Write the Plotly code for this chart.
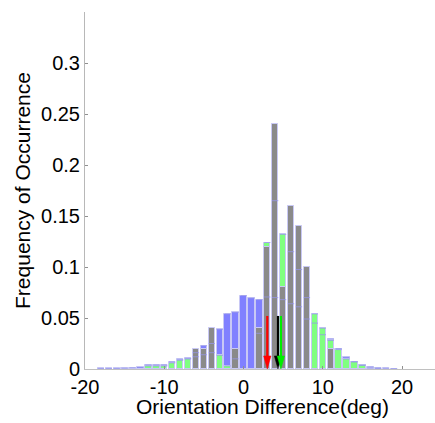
import plotly.graph_objects as go

# ---------------- data ----------------
bins = list(range(-18, 20))  # bin centres (deg)

blue_vals = [0.0005, 0.0005, 0.0005, 0.0008, 0.0012, 0.0015, 0.004, 0.004, 0.004, 0.007,
             0.0095, 0.0105, 0.016, 0.0228, 0.025, 0.0388, 0.054, 0.0555, 0.072, 0.0695,
             0.068, 0.0706, 0.070, 0.068, 0.064, 0.061, 0.049, 0.045, 0.0336, 0.0294,
             0.020, 0.0114, 0.0072, 0.0038, 0.002, 0.001, 0.0007, 0.0003]

green_vals = [0, 0, 0, 0, 0, 0, 0.003, 0.003, 0.003, 0.006,
              0.0085, 0.0098, 0.012, 0.014, 0.016, 0.0134, 0.003, 0.010, 0, 0,
              0.035, 0.124, 0.165, 0.132, 0.115, 0.0975, 0.070, 0.054, 0.040, 0.028,
              0.019, 0.0098, 0.0069, 0.0035, 0.001, 0.0005, 0, 0]

gray_vals = [0, 0, 0, 0, 0, 0, 0, 0, 0, 0,
             0, 0, 0.02, 0.02, 0.04, 0, 0, 0.02, 0, 0,
             0.04, 0.12, 0.24, 0.08, 0.16, 0.14, 0.10, 0, 0, 0.02,
             0, 0, 0, 0, 0, 0, 0, 0]

arrow_x = [3.0, 4.35, 4.72]
arrow_colors = ["#ff0000", "#000000", "#00ee00"]
arrow_top = 0.052

x_ticks = [-20, -10, 0, 10, 20]
y_ticks = [0, 0.05, 0.1, 0.15, 0.2, 0.25, 0.3]
y_ticktext = ["0", "0.05", "0.1", "0.15", "0.2", "0.25", "0.3"]

# ---------------- style ----------------
FONT = "Liberation Sans, Arial, sans-serif"
EDGE = "rgb(200,200,245)"
BAR_W = 0.8

fig = go.Figure()
for vals, col in [(blue_vals, "#8080ff"), (green_vals, "#80ff80"), (gray_vals, "#8a8a8a")]:
    fig.add_trace(go.Bar(x=bins, y=vals, width=BAR_W, marker=dict(color=col, line=dict(color=EDGE, width=1)),
                         hoverinfo="skip"))

# faint top edges of hidden bars showing through
for vals in (blue_vals, green_vals):
    xs, ys = [], []
    for b, v in zip(bins, vals):
        if v > 0:
            xs += [b - BAR_W / 2, b + BAR_W / 2, None]
            ys += [v, v, None]
    fig.add_trace(go.Scatter(x=xs, y=ys, mode="lines", line=dict(color="rgba(150,150,235,0.75)", width=1),
                             hoverinfo="skip"))

# arrows
head_half = 0.46
head_len = 0.0128
shapes = []
for ax_, c in zip(arrow_x, arrow_colors):
    shapes.append(dict(type="line", xref="x", yref="y", x0=ax_, x1=ax_, y0=arrow_top, y1=head_len * 0.9,
                       line=dict(color=c, width=2.2), layer="above"))
    shapes.append(dict(type="path", xref="x", yref="y",
                       path=f"M {ax_-head_half},{head_len} L {ax_+head_half},{head_len} L {ax_},0 Z",
                       fillcolor=c, line=dict(color=c, width=0.5), layer="above"))

fig.update_layout(
    width=435, height=423,
    margin=dict(l=85, r=0, t=12, b=54),
    barmode="overlay", bargap=0,
    showlegend=False,
    plot_bgcolor="white", paper_bgcolor="white",
    font=dict(family=FONT, size=20, color="black"),
    shapes=shapes,
    annotations=[dict(text="Orientation Difference(deg)", xref="paper", yref="paper",
                      x=0.507, y=-0.104, xanchor="center", yanchor="middle", showarrow=False,
                      font=dict(family=FONT, size=21, color="black"))],
    xaxis=dict(range=[-20, 24.16], tickvals=x_ticks, ticktext=[str(t) for t in x_ticks],
               automargin=False,
               showgrid=False, zeroline=False, showline=True, linecolor="#c0c0c0", linewidth=1,
               ticks="inside", ticklen=3, tickcolor="#909090",
               tickfont=dict(family=FONT, size=20, color="black")),
    yaxis=dict(range=[0, 0.35], tickvals=y_ticks, ticktext=y_ticktext,
               automargin=False,
               showgrid=False, zeroline=False, showline=True, linecolor="#b8b8b8", linewidth=1,
               ticks="inside", ticklen=3, tickcolor="#909090",
               tickfont=dict(family=FONT, size=20, color="black"),
               title=dict(text="Frequency of Occurrence", font=dict(family=FONT, size=21, color="black"),
                          standoff=4)),
)

fig.write_html("out.html", config={"displayModeBar": False},
               post_script="document.body.style.margin='0px';document.body.style.overflow='hidden';")
